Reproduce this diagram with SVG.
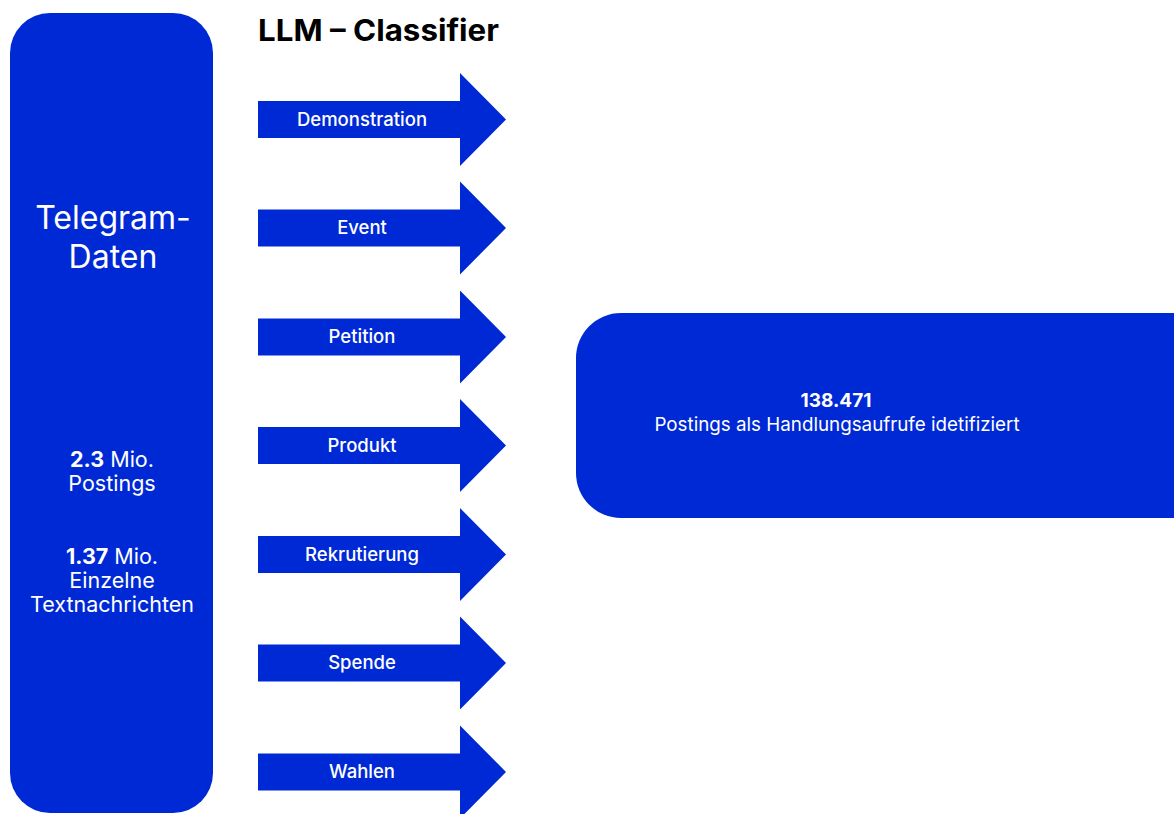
<svg xmlns="http://www.w3.org/2000/svg" width="1174" height="814" viewBox="0 0 1174 814">
<style>
.box{fill:#0029D6}
.arr{fill:#0029D6}
.t{font-family:Inter,"Liberation Sans",sans-serif;fill:#ffffff;text-anchor:middle}
.lbl{font-size:18.5px;font-weight:500}
.title{font-family:Inter,"Liberation Sans",sans-serif;font-size:30px;font-weight:700;fill:#000}
</style>
<defs>
<path id="arrow" d="M0,-18.5 H202 V-46.5 L248,0 L202,46.5 V18.5 H0 Z"/>
</defs>
<rect width="1174" height="814" fill="#ffffff"/>
<text class="title" x="258" y="41" textLength="241" lengthAdjust="spacingAndGlyphs">LLM – Classifier</text>
<g id="telegram">
<rect class="box" x="10" y="13" width="203" height="800" rx="40" ry="40"/>
<text class="t" x="113" y="229" font-size="32">Telegram-</text>
<text class="t" x="113" y="268" font-size="32">Daten</text>
<text class="t" x="112" y="467" font-size="21.5"><tspan font-weight="700">2.3</tspan> Mio.</text>
<text class="t" x="112" y="491" font-size="21.5">Postings</text>
<text class="t" x="112" y="564" font-size="21.5"><tspan font-weight="700">1.37</tspan> Mio.</text>
<text class="t" x="112" y="588" font-size="21.5">Einzelne</text>
<text class="t" x="112" y="612" font-size="21.5">Textnachrichten</text>
</g>
<g id="connectors">
<g id="a-demonstration"><use href="#arrow" class="arr" x="258" y="119.5"/><text class="t lbl" x="362" y="125.5">Demonstration</text></g>
<g id="a-event"><use href="#arrow" class="arr" x="258" y="228"/><text class="t lbl" x="362" y="234">Event</text></g>
<g id="a-petition"><use href="#arrow" class="arr" x="258" y="337"/><text class="t lbl" x="362" y="343">Petition</text></g>
<g id="a-produkt"><use href="#arrow" class="arr" x="258" y="445.5"/><text class="t lbl" x="362" y="451.5">Produkt</text></g>
<g id="a-rekrutierung"><use href="#arrow" class="arr" x="258" y="554.5"/><text class="t lbl" x="362" y="560.5">Rekrutierung</text></g>
<g id="a-spende"><use href="#arrow" class="arr" x="258" y="663"/><text class="t lbl" x="362" y="669">Spende</text></g>
<g id="a-wahlen"><use href="#arrow" class="arr" x="258" y="772"/><text class="t lbl" x="362" y="778">Wahlen</text></g>
</g>
<g id="result">
<rect class="box" x="576" y="313" width="640" height="205" rx="45" ry="45"/>
<text class="t" x="836" y="407" font-size="19" font-weight="700">138.471</text>
<text class="t" x="837" y="431" font-size="18.8">Postings als Handlungsaufrufe idetifiziert</text>
</g>
</svg>
